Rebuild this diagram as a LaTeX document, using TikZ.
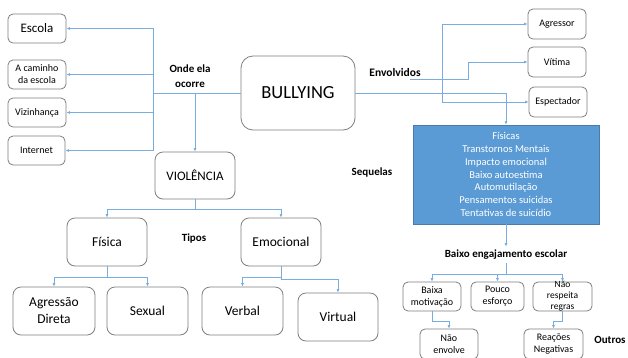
\documentclass[tikz,border=0pt]{standalone}
\usepackage{fontspec}
\setmainfont{Carlito}
\usetikzlibrary{arrows.meta}
\definecolor{linha}{HTML}{78ADE0}
\definecolor{caixa}{HTML}{5B9BD5}
\definecolor{borda}{HTML}{7F7F7F}
\newcommand{\fs}[2]{\fontsize{#1}{#2}\selectfont}

\begin{document}
\begin{tikzpicture}[x=1pt,y=-1pt,
  box/.style={draw=borda,line width=0.8pt,rounded corners=5pt,fill=white,align=center,inner sep=1pt},
  big/.style={box,rounded corners=8pt,minimum width=80pt,minimum height=48pt,font=\fs{13.5}{17}},
  small/.style={box,minimum width=58pt,minimum height=29pt,font=\fs{10}{12}},
  lig/.style={draw=linha,line width=0.7pt},
  seta/.style={lig,-{Latex[length=3.5pt,width=3pt]}},
  rot/.style={font=\bfseries\fs{11}{15},align=center}]
  \clip (0,0) rectangle (628,357);
  \fill[white] (0,0) rectangle (628,357);

  % onde ela ocorre
  \node[small,font=\fs{13}{16}] (escola) at (37,28.5) {Escola};
  \node[small] (caminho) at (37,74.5) {A caminho\\da escola};
  \node[small] (vizinhanca) at (37,112.5) {Vizinhança};
  \node[small,minimum width=57pt] (internet) at (36.5,150.5) {Internet};
  \node[box,rounded corners=12pt,minimum width=114pt,minimum height=74pt,font=\fs{18.5}{22}] (bullying) at (298,93) {BULLYING};
  \node[rot] at (190,76) {Onde ela\\ocorre};
  \coordinate (tronco) at (153,93);
  \draw[lig] (bullying.west) -- (tronco);
  \foreach \n in {escola,caminho,vizinhanca,internet}
    \draw[seta] (tronco) |- (\n.east);

  % tipos
  \node[big,minimum height=47pt,font=\fs{13}{16}] (violencia) at (195,175.5) {VIOLÊNCIA};
  \node[big] (fisica) at (107,242) {Física};
  \node[big] (emocional) at (281,242) {Emocional};
  \node[big,minimum width=82pt] (agressao) at (54,311) {Agressão\\Direta};
  \node[big,minimum width=81pt] (sexual) at (147.5,311) {Sexual};
  \node[big,minimum width=81pt] (verbal) at (242.5,311) {Verbal};
  \node[big] (virtual) at (338,317) {Virtual};
  \node[rot] at (194,238) {Tipos};
  \draw[seta] (violencia.north |- bullying.west) -- (violencia.north);
  \foreach \n in {fisica,emocional}
    \draw[seta] (violencia.south) -- ++(0,10) -| (\n.north);
  \foreach \n in {agressao,sexual}
    \draw[seta] (fisica.south) -- ++(0,11) -| (\n.north);
  \draw[seta] (emocional.south) -- ++(0,11) -| (verbal.north);
  \draw[seta] (emocional.south) -- ++(0,13) -| (virtual.north);

  % envolvidos
  \node[small,minimum height=30pt] (agressor) at (557,24) {Agressor};
  \node[small,minimum height=30pt] (vitima) at (557,62) {Vítima};
  \node[small,minimum height=30pt] (espectador) at (558,102) {Espectador};
  \node[rot,font=\bfseries\fs{11.5}{13}] at (395,73) {Envolvidos};
  \coordinate (ramo) at (442,93);
  \coordinate (solto) at (410,79);
  \draw[seta] (ramo) |- (agressor.west);
  \draw[seta] (ramo) |- (espectador.west);
  \draw[seta] (solto) -- ++(58,0) |- (vitima.west);

  % sequelas
  \node[draw=caixa!80!black,line width=0.5pt,fill=caixa,text=white,minimum width=186pt,minimum height=99pt,
    align=center,font=\fs{10.5}{12.7}] (sequelas) at (506,174.5)
    {Físicas\\Transtornos Mentais\\Impacto emocional\\Baixo autoestima\\Automutilação\\Pensamentos suicidas\\Tentativas de suicídio};
  \node[rot,font=\bfseries\fs{11}{13}] at (372,172) {Sequelas};
  \draw[seta] (bullying.east) -- (sequelas.north |- bullying.east) -- (sequelas.north);

  % outros
  \node[rot] (engaj) at (506,255) {Baixo engajamento escolar};
  \node[small] (baixa) at (432,296.5) {Baixa\\motivação};
  \node[small,minimum width=53pt] (pouco) at (497.5,296.5) {Pouco\\esforço};
  \node[small,minimum width=59pt] (regras) at (562.5,296.5) {};
  \node[font=\fs{9.5}{11},align=center] at (regras) {Não\\respeita\\regras};
  \node[small,minimum height=30pt] (naoenvolve) at (449,344) {Não\\envolve};
  \node[small,minimum width=59pt,minimum height=30pt] (reacoes) at (553.5,344) {Reações\\Negativas};
  \node[rot] at (610,340) {Outros};
  \draw[seta] (sequelas.south) -- (engaj.north);
  \foreach \n in {baixa,pouco,regras}
    \draw[seta] (engaj.south) -- ++(0,11) -| (\n.north);
  \draw[seta] (baixa.south) -- ++(0,10) -| (naoenvolve.north);
  \draw[seta] (regras.south) -- ++(0,10) -| (reacoes.north);
\end{tikzpicture}
\end{document}
